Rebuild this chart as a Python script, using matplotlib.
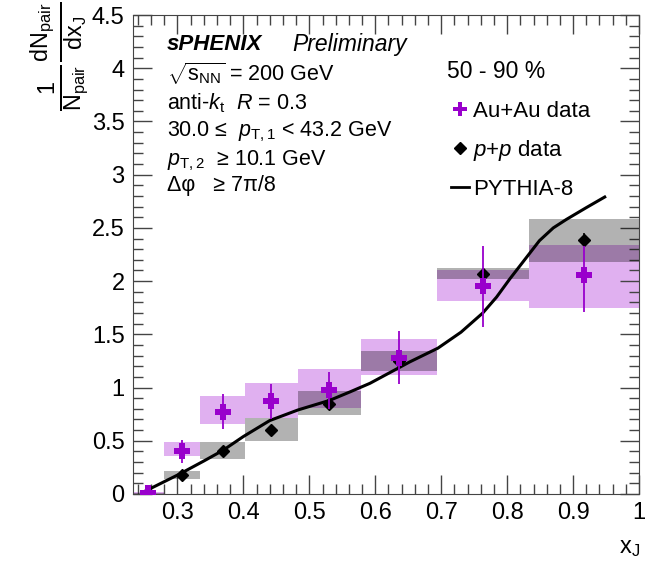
import matplotlib
matplotlib.use('Agg')
import matplotlib.pyplot as plt
from matplotlib.ticker import MultipleLocator
from matplotlib.lines import Line2D
import numpy as np

plt.rcParams['font.family'] = ['Liberation Sans', 'DejaVu Sans']
plt.rcParams['mathtext.fontset'] = 'custom'
plt.rcParams['mathtext.rm'] = 'Liberation Sans'
plt.rcParams['mathtext.it'] = 'Liberation Sans:italic'
plt.rcParams['mathtext.bf'] = 'Liberation Sans:bold'

# x_J bins (edges) and centres
bin_edges = [0.2326, 0.2791, 0.3349, 0.4019, 0.4823, 0.5787, 0.6944, 0.8333, 1.0]
x_cent = [0.2558, 0.3070, 0.3684, 0.4421, 0.5305, 0.6366, 0.7639, 0.9167]

# Au+Au data
auau_y = [0.01, 0.40, 0.77, 0.87, 0.98, 1.28, 1.95, 2.06]
auau_stat_lo = [0.00, 0.11, 0.16, 0.17, 0.18, 0.25, 0.38, 0.35]
auau_stat_hi = [0.00, 0.11, 0.17, 0.16, 0.17, 0.25, 0.38, 0.27]
auau_sys_lo = [0.00, 0.36, 0.66, 0.71, 0.81, 1.12, 1.81, 1.75]
auau_sys_hi = [0.02, 0.49, 0.92, 1.04, 1.17, 1.46, 2.10, 2.34]

# p+p data
pp_y = [0.0, 0.18, 0.40, 0.60, 0.85, 1.25, 2.07, 2.39]
pp_stat = [0.0, 0.02, 0.02, 0.03, 0.03, 0.04, 0.05, 0.06]
pp_sys_lo = [0.00, 0.14, 0.33, 0.50, 0.74, 1.16, 2.02, 2.18]
pp_sys_hi = [0.01, 0.22, 0.49, 0.71, 0.97, 1.34, 2.12, 2.58]

# PYTHIA-8 curve
pythia_x = [0.252, 0.27, 0.304, 0.34, 0.369, 0.40, 0.44, 0.483, 0.531, 0.562,
            0.592, 0.625, 0.652, 0.695, 0.73, 0.763, 0.784, 0.804, 0.834, 0.849,
            0.87, 0.89, 0.92, 0.948]
pythia_y = [0.03, 0.085, 0.19, 0.31, 0.41, 0.54, 0.69, 0.79, 0.88, 0.96,
            1.04, 1.15, 1.24, 1.37, 1.52, 1.70, 1.85, 2.02, 2.26, 2.38,
            2.50, 2.58, 2.69, 2.79]

W, H = 653, 565
fig = plt.figure(figsize=(W / 100, H / 100), dpi=100)
ax = fig.add_axes([133 / W, 1 - 494 / H, (639 - 133) / W, (494 - 15) / H])

purple = '#9900cc'
for i in range(len(x_cent)):
    x0, x1 = bin_edges[i], bin_edges[i + 1]
    ax.fill_between([x0, x1], auau_sys_lo[i], auau_sys_hi[i], color='#e0b0f0', lw=0, zorder=1)
for i in range(len(x_cent)):
    x0, x1 = bin_edges[i], bin_edges[i + 1]
    ax.fill_between([x0, x1], pp_sys_lo[i], pp_sys_hi[i], color='black', alpha=0.3, lw=0, zorder=2)

ax.plot(pythia_x, pythia_y, color='black', lw=2.2, zorder=3)

ax.errorbar(x_cent, pp_y, yerr=pp_stat, fmt='D', color='black', ms=6,
            elinewidth=1.2, capsize=0, zorder=4)
ax.errorbar(x_cent, auau_y, yerr=[auau_stat_lo, auau_stat_hi], fmt='P', color=purple,
            ms=11, mew=0, elinewidth=1.3, capsize=2.5, zorder=5)

ax.set_xlim(bin_edges[0], 1.0)
ax.set_ylim(0, 4.5)
ax.xaxis.set_minor_locator(MultipleLocator(0.02))
ax.yaxis.set_minor_locator(MultipleLocator(0.1))
ax.set_xticks(np.arange(0.3, 1.01, 0.1))
ax.set_xticklabels(['0.3', '0.4', '0.5', '0.6', '0.7', '0.8', '0.9', '1'])
ax.set_yticks(np.arange(0, 4.51, 0.5))
ax.set_yticklabels(['0', '0.5', '1', '1.5', '2', '2.5', '3', '3.5', '4', '4.5'])
ax.tick_params(which='both', direction='in', top=True, right=True, width=1, color='#444444')
ax.tick_params(which='major', length=14, labelsize=17, pad=6)
ax.tick_params(which='minor', length=7)
for s in ax.spines.values():
    s.set_color('#444444')

def ftext(x, y, s, **kw):
    kw.setdefault('fontsize', 15.5)
    kw.setdefault('va', 'center')
    fig.text(x / W, 1 - y / H, s, **kw)

ftext(167, 44, 'sPHENIX', fontweight='bold', style='italic', fontsize=16)
ftext(292, 44, 'Preliminary', style='italic', fontsize=16.5)
ftext(167, 74, r'$\sqrt{\mathrm{s}_{\mathrm{NN}}}$ = 200 GeV')
ftext(167, 103, r'anti-$k_{\mathrm{t}}$  $R$ = 0.3')
ftext(167, 132, r'30.0 ≤  $p_{\mathrm{T,1}}$ < 43.2 GeV')
ftext(167, 161, r'$p_{\mathrm{T,2}}$  ≥ 10.1 GeV')
ftext(167, 186, r'Δφ   ≥ 7π/8')
ftext(447, 72, '50 - 90 %', fontsize=16.5)

handles = [Line2D([], [], marker='P', color=purple, ls='none', ms=10, mew=0),
           Line2D([], [], marker='D', color='black', ls='none', ms=6),
           Line2D([], [], color='black', lw=2)]
labels = ['Au+Au data', r'$p$+$p$ data', 'PYTHIA-8']
fig.legend(handles, labels, loc='upper left', bbox_to_anchor=(440 / W, 1 - 90 / H),
           frameon=False, fontsize=16, handlelength=0.8, handletextpad=0.2,
           labelspacing=0.72, borderpad=0)

ftext(60, 56, r'$\frac{1}{\mathrm{N_{pair}}}\frac{\mathrm{dN_{pair}}}{\mathrm{dx_{J}}}$',
      rotation=90, ha='center', fontsize=24)
ftext(630, 548, r'x$_{\mathrm{J}}$', ha='center', fontsize=17)

fig.savefig('out.png', dpi=100)
